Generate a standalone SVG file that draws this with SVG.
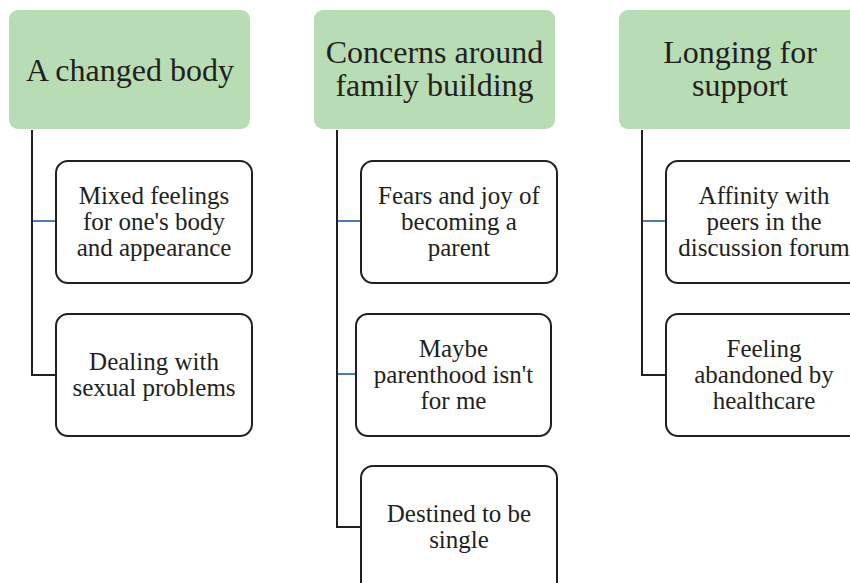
<svg xmlns="http://www.w3.org/2000/svg" width="850" height="583" viewBox="0 0 850 583">
<style>
.hdr{fill:#b8ddb5;stroke:none}
.box{fill:#fff;stroke:#231f20;stroke-width:2}
.ht{font-family:"Liberation Serif",serif;font-size:32px;fill:#231f20;text-anchor:middle}
.bt{font-family:"Liberation Serif",serif;font-size:25px;fill:#231f20;text-anchor:middle}
.dk{fill:none;stroke:#231f20;stroke-width:2}
.bl{fill:none;stroke:#4a7eb0;stroke-width:2}
</style>
<rect width="850" height="583" fill="#fff"/>
<g id="connectors">
<path class="dk" d="M32 130 V375 H56"/>
<path class="bl" d="M33 221 H56"/>
<path class="dk" d="M337 130 V527 H361"/>
<path class="bl" d="M338 221 H361"/>
<path class="bl" d="M338 374 H356"/>
<path class="dk" d="M642 130 V375 H666"/>
<path class="bl" d="M643 221 H666"/>
</g>
<g id="h1"><rect class="hdr" x="9" y="10" width="241" height="119" rx="9"/><text class="ht" x="130" y="81">A changed body</text></g>
<g id="h2"><rect class="hdr" x="314" y="10" width="241" height="119" rx="9"/><text class="ht" x="434.5" y="63">Concerns around</text><text class="ht" x="434.5" y="96">family building</text></g>
<g id="h3"><rect class="hdr" x="619" y="10" width="241" height="119" rx="9"/><text class="ht" x="740" y="63">Longing for</text><text class="ht" x="740" y="96">support</text></g>
<g id="c1a"><rect class="box" x="56" y="161" width="196" height="122" rx="12"/><text class="bt" x="154" y="204">Mixed feelings</text><text class="bt" x="154" y="230">for one's body</text><text class="bt" x="154" y="256">and appearance</text></g>
<g id="c1b"><rect class="box" x="56" y="314" width="196" height="122" rx="12"/><text class="bt" x="154" y="370">Dealing with</text><text class="bt" x="154" y="396">sexual problems</text></g>
<g id="c2a"><rect class="box" x="361" y="161" width="196" height="122" rx="12"/><text class="bt" x="459" y="204">Fears and joy of</text><text class="bt" x="459" y="230">becoming a</text><text class="bt" x="459" y="256">parent</text></g>
<g id="c2b"><rect class="box" x="356" y="314" width="195" height="122" rx="12"/><text class="bt" x="453.5" y="357">Maybe</text><text class="bt" x="453.5" y="383">parenthood isn't</text><text class="bt" x="453.5" y="409">for me</text></g>
<g id="c2c"><rect class="box" x="361" y="466" width="196" height="130" rx="12"/><text class="bt" x="459" y="522">Destined to be</text><text class="bt" x="459" y="548">single</text></g>
<g id="c3a"><rect class="box" x="666" y="161" width="196" height="122" rx="12"/><text class="bt" x="764" y="204">Affinity with</text><text class="bt" x="764" y="230">peers in the</text><text class="bt" x="764" y="256">discussion forum</text></g>
<g id="c3b"><rect class="box" x="666" y="314" width="196" height="122" rx="12"/><text class="bt" x="764" y="357">Feeling</text><text class="bt" x="764" y="383">abandoned by</text><text class="bt" x="764" y="409">healthcare</text></g>
</svg>
